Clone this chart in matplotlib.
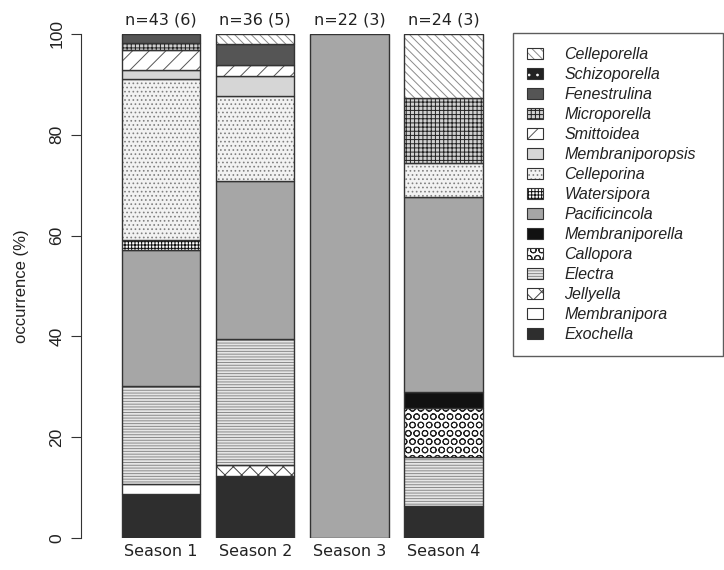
import numpy as np
import matplotlib.pyplot as plt
from matplotlib.patches import Patch
from matplotlib.legend_handler import HandlerTuple

plt.rcParams['font.family'] = ['Liberation Sans', 'DejaVu Sans']
plt.rcParams['hatch.linewidth'] = 0.7

# genera from bottom of the stack to the top
genera = ['Exochella', 'Membranipora', 'Jellyella', 'Electra', 'Callopora',
          'Membraniporella', 'Pacificincola', 'Watersipora', 'Celleporina',
          'Membraniporopsis', 'Smittoidea', 'Microporella', 'Fenestrulina',
          'Schizoporella', 'Celleporella']

seasons = ['Season 1', 'Season 2', 'Season 3', 'Season 4']
n_labels = ['n=43 (6)', 'n=36 (5)', 'n=22 (3)', 'n=24 (3)']

# occurrence (%) per genus, same order as genera
season1 = [8.8, 1.9, 0, 19.5, 0, 0, 26.9, 2.0, 32.0, 1.8, 4.0, 1.4, 1.7, 0, 0]
season2 = [12.4, 0, 2.1, 25.0, 0, 0, 31.4, 0, 16.7, 4.1, 2.1, 0, 4.2, 0, 2.0]
season3 = [0, 0, 0, 0, 0, 0, 100.0, 0, 0, 0, 0, 0, 0, 0, 0]
season4 = [6.4, 0, 0, 9.6, 9.7, 3.3, 38.7, 0, 6.7, 0, 0, 12.9, 0, 0, 12.7]

data = np.array([season1, season2, season3, season4])

# (face colour, hatch colour, hatch) for each genus
styles = {
    'Exochella':        ('#2e2e2e', '#2e2e2e', None),
    'Membranipora':     ('white', 'white', None),
    'Jellyella':        ('white', '#444444', 'xx'),
    'Electra':          ('#e6e6e6', '#8a8a8a', '------'),
    'Callopora':        ('white', '#222222', 'OO'),
    'Membraniporella':  ('#111111', '#111111', None),
    'Pacificincola':    ('#a6a6a6', '#a6a6a6', None),
    'Watersipora':      ('white', '#111111', '+++++'),
    'Celleporina':      ('#f2f2f2', '#808080', '....'),
    'Membraniporopsis': ('#d6d6d6', '#d6d6d6', None),
    'Smittoidea':       ('white', '#555555', '//'),
    'Microporella':     ('#d0d0d0', '#222222', '++++'),
    'Fenestrulina':     ('#555555', '#555555', None),
    'Schizoporella':    ('#222222', 'white', '..'),
    'Celleporella':     ('white', '#8a8a8a', '\\\\\\\\'),
}

edge = '#333333'
txt = '#222222'

fig = plt.figure(figsize=(7.24, 5.70), dpi=100)
ax = fig.add_axes([107.2 / 724, 32 / 570, 390.3 / 724, 504 / 570])

x = 0.7 + 1.2 * np.arange(len(seasons))
bottom = np.zeros(len(seasons))
for j, g in enumerate(genera):
    h = data[:, j]
    face, hcol, hatch = styles[g]
    m = h > 0
    if m.any():
        ax.bar(x[m], h[m], width=1.0, bottom=bottom[m], color=face,
               edgecolor=hcol, hatch=hatch, linewidth=0)
        ax.bar(x[m], h[m], width=1.0, bottom=bottom[m], fill=False,
               edgecolor=edge, linewidth=1.0)
    bottom += h

ax.set_xlim(0.016, 4.984)
ax.set_ylim(0, 100)
for s in ['top', 'right', 'bottom']:
    ax.spines[s].set_visible(False)
ax.spines['left'].set_position(('outward', 18.7))
ax.spines['left'].set_bounds(0, 100)
ax.spines['left'].set_color(edge)

ax.set_yticks([0, 20, 40, 60, 80, 100])
ax.tick_params(axis='y', length=7, pad=5, labelrotation=90, labelsize=12.5,
               colors=edge, labelcolor=txt)
for lab in ax.get_yticklabels():
    lab.set_va('center')
ax.set_xticks(x, seasons, fontfamily='DejaVu Sans')
ax.tick_params(axis='x', length=0, pad=4, labelsize=11.5, labelcolor=txt)
ax.set_ylabel('occurrence (%)', fontsize=12, color=txt, labelpad=15)

for xi, lab in zip(x, n_labels):
    ax.text(xi, 102.8, lab, ha='center', va='center', fontsize=11.5,
            color=txt, family='DejaVu Sans', clip_on=False)

# legend, top genus first
handles = []
for g in genera[::-1]:
    face, hcol, hatch = styles[g]
    handles.append((Patch(facecolor=face, edgecolor=hcol, hatch=hatch, linewidth=0),
                    Patch(fill=False, edgecolor=edge, linewidth=0.8)))
leg = fig.legend(handles, genera[::-1],
                 handler_map={tuple: HandlerTuple(ndivide=1, pad=0)},
                 loc='upper left', mode='expand',
                 bbox_to_anchor=(513 / 724, 1 - 352 / 570, 210 / 724, 319 / 570),
                 borderaxespad=0, fancybox=False, edgecolor=edge,
                 prop={'style': 'italic', 'size': 11.5}, labelspacing=0.31,
                 handlelength=1.0, handleheight=0.7, handletextpad=1.3,
                 borderpad=0.9)
leg.get_frame().set_linewidth(1.0)
for t in leg.get_texts():
    t.set_color(txt)

fig.savefig('out.png', dpi=100)
